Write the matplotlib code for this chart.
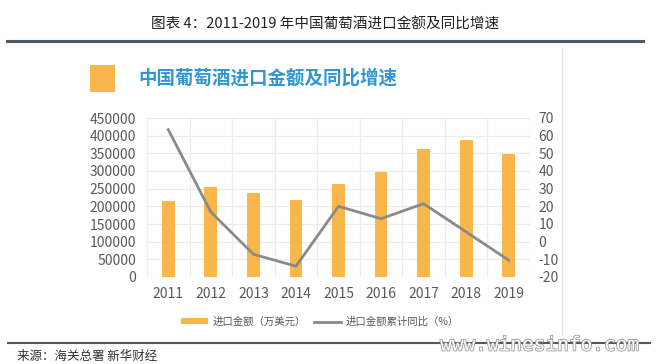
import matplotlib
matplotlib.use("Agg")
import matplotlib.pyplot as plt
import matplotlib.patheffects as pe
from matplotlib.patches import Rectangle
from matplotlib.lines import Line2D

plt.rcParams['font.family'] = ['Noto Sans CJK SC', 'DejaVu Sans']
plt.rcParams['axes.unicode_minus'] = False

years = ["2011", "2012", "2013", "2014", "2015", "2016", "2017", "2018", "2019"]
import_value = [215000, 255000, 237000, 217000, 263000, 298000, 363000, 387000, 349000]
yoy_growth = [63.4, 16.8, -7.1, -13.9, 20.0, 13.0, 21.5, 5.5, -10.5]
left_ticks = [0, 50000, 100000, 150000, 200000, 250000, 300000, 350000, 400000, 450000]
right_ticks = [-20, -10, 0, 10, 20, 30, 40, 50, 60, 70]

W, H = 660, 364
BAR = "#f9b74b"
LINE = "#8a8a8a"
TXT = "#595959"


def fx(px):
    return px / W


def fy(py):
    return 1 - py / H


fig = plt.figure(figsize=(W / 100, H / 100), dpi=100)
fig.patch.set_facecolor("white")

ax = fig.add_axes([fx(147), fy(277), fx(530) - fx(147), fy(118) - fy(277)])
x = list(range(len(years)))
ax.bar(x, import_value, width=0.3, color=BAR, zorder=2, label="进口金额（万美元）")
ax.set_xlim(-0.5, len(years) - 0.5)
ax.set_ylim(0, 450000)
ax.set_yticks(left_ticks)
ax.set_yticklabels([str(t) for t in left_ticks])
ax.set_xticks(x)
ax.set_xticklabels(years)
ax.set_xticks([i - 0.5 for i in range(len(years) + 1)], minor=True)
ax.grid(True, axis="y", color="#ebebeb", lw=0.9, zorder=0)
ax.grid(True, axis="x", which="minor", color="#ebebeb", lw=0.9, zorder=0)
ax.grid(False, axis="x", which="major")
for s in ax.spines.values():
    s.set_visible(False)
ax.tick_params(axis="both", which="both", length=0, colors=TXT, labelsize=10)
ax.tick_params(axis="y", pad=8)
ax.tick_params(axis="x", pad=7)

ax2 = ax.twinx()
ax2.plot(x, yoy_growth, color=LINE, lw=2, zorder=3, label="进口金额累计同比（%）")
ax2.set_ylim(-20, 70)
ax2.set_yticks(right_ticks)
for s in ax2.spines.values():
    s.set_visible(False)
ax2.tick_params(axis="y", length=0, colors=TXT, labelsize=10, pad=6)

h1, l1 = ax.get_legend_handles_labels()
h2, l2 = ax2.get_legend_handles_labels()
leg = fig.legend(h1 + h2, l1 + l2, loc="center", bbox_to_anchor=(fx(320), fy(322)),
                 ncol=2, frameon=False, fontsize=7.5, handlelength=2.6, handleheight=0.5,
                 columnspacing=0.8, handletextpad=0.4, labelcolor=TXT)

# report title and rules
fig.text(fx(325), fy(25), "图表 4：2011-2019 年中国葡萄酒进口金额及同比增速",
         ha="center", va="center", fontsize=10.5, color="#222222")
fig.add_artist(Line2D([fx(7), fx(643)], [fy(41), fy(41)], color="#4b5a66", lw=2.2))
fig.add_artist(Line2D([fx(8), fx(650)], [fy(343), fy(343)], color="#4b5a66", lw=1.5))
fig.add_artist(Line2D([fx(562), fx(562)], [fy(48), fy(335)], color="#e6e6e6", lw=1))

# inner header
fig.add_artist(Rectangle((fx(90), fy(92)), fx(115) - fx(90), fy(65) - fy(92),
                         transform=fig.transFigure, color=BAR, lw=0))
fig.text(fx(138), fy(78), "中国葡萄酒进口金额及同比增速", ha="left", va="center",
         fontsize=13.3, fontweight="bold", color="#3096d4")

fig.text(fx(17), fy(356), "来源：海关总署 新华财经", ha="left", va="center",
         fontsize=9, color="#333333")

fig.text(fx(540), fy(345), "www.winesinfo.com", ha="center", va="center",
         fontsize=14, color="white", family="DejaVu Sans Mono",
         path_effects=[pe.withStroke(linewidth=1.2, foreground="#9a9a9a")])

fig.savefig("out.png", dpi=100)
